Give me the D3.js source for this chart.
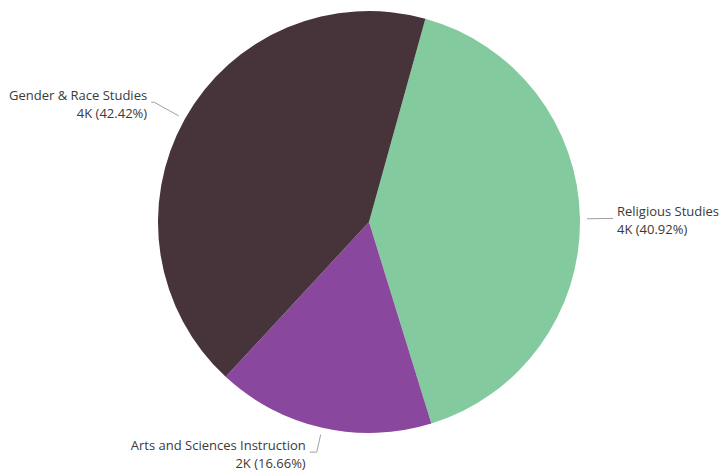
<!DOCTYPE html>
<html>
<head>
<meta charset="utf-8">
<script src="https://cdn.jsdelivr.net/npm/d3@7"></script>
<style>
  html, body { margin: 0; padding: 0; background: #ffffff; }
  svg { display: block; }
  .lbl { font-family: "Segoe UI", "Open Sans", "Noto Sans", sans-serif; font-size: 13px; fill: #3a3a3a; }
</style>
</head>
<body>
<svg id="chart" width="721" height="472"></svg>
<script>
// Degree completions by field (clockwise from the top-right)
const categories = ["Religious Studies", "Arts and Sciences Instruction", "Gender & Race Studies"];
const values = [4092, 1666, 4242];
const colors = ["#83CB9E", "#8A479E", "#46343A"];

// Label layout: text side, radial leader length and horizontal elbow length per slice
const labelSide = ["start", "end", "end"];
const leaderLen = [26, 18, 28];
const elbowLen = [0, 7, 3];

const width = 721, height = 472;
const cx = 369, cy = 222, r = 211;

const svg = d3.select("#chart");
const g = svg.append("g").attr("transform", `translate(${cx},${cy})`);

const total = d3.sum(values);
const start = 15.5 * Math.PI / 180;
const pie = d3.pie().sort(null).startAngle(start).endAngle(start + 2 * Math.PI);
const arcs = pie(values);
const arc = d3.arc().innerRadius(0).outerRadius(r);

g.selectAll("path.slice")
  .data(arcs)
  .join("path")
  .attr("class", "slice")
  .attr("d", arc)
  .attr("fill", (d, i) => colors[i]);

const fmtK = v => d3.format(".0f")(v / 1000) + "K";
const fmtPct = v => d3.format(".2f")(v / total * 100) + "%";

const polar = (a, rad) => [Math.sin(a) * rad, -Math.cos(a) * rad];

arcs.forEach((d, i) => {
  const mid = (d.startAngle + d.endAngle) / 2;
  const dir = labelSide[i] === "start" ? 1 : -1;
  const p1 = polar(mid, r + 7);
  const p2 = polar(mid, r + 7 + leaderLen[i]);
  const p3 = [p2[0] + dir * elbowLen[i], p2[1]];
  g.append("polyline")
    .attr("points", [p1, p2, p3].map(p => p.join(",")).join(" "))
    .attr("fill", "none")
    .attr("stroke", "#a0a0a0")
    .attr("stroke-width", 1);

  // two-line label: category name, then value and share
  const tx = p3[0] + dir * 4;
  const lbl = g.append("g").attr("class", "label");
  lbl.append("text")
    .attr("class", "lbl")
    .attr("text-anchor", labelSide[i])
    .attr("x", tx)
    .attr("y", p3[1] - 2)
    .text(categories[i]);
  lbl.append("text")
    .attr("class", "lbl")
    .attr("text-anchor", labelSide[i])
    .attr("x", tx)
    .attr("y", p3[1] + 16)
    .text(`${fmtK(d.data)} (${fmtPct(d.data)})`);
});
</script>
</body>
</html>
